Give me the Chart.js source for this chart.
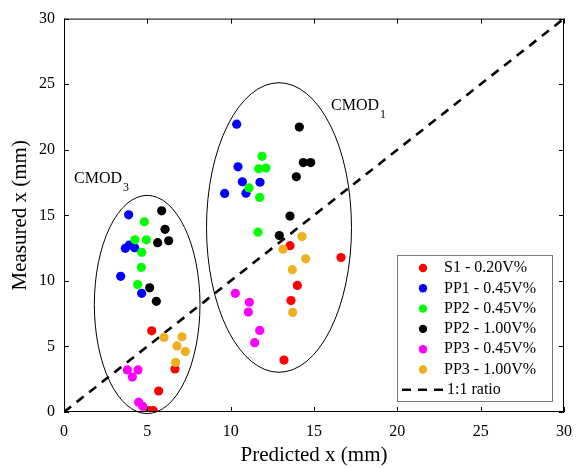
<!DOCTYPE html>
<html>
<head>
<meta charset="utf-8">
<script src="https://cdn.jsdelivr.net/npm/chart.js@4.4.1/dist/chart.umd.min.js"></script>
<style>
  html, body { margin: 0; padding: 0; background: #fff; }
  #box { width: 584px; height: 468px; }
</style>
</head>
<body>
<div id="box"><canvas id="cvs"></canvas></div>
<script>
// values (mm)
const seriesNames = ['S1 - 0.20V%', 'PP1 - 0.45V%', 'PP2 - 0.45V%', 'PP2 - 1.00V%', 'PP3 - 0.45V%', 'PP3 - 1.00V%'];
const seriesColors = ['#ff0000', '#0000ff', '#00ff00', '#000000', '#ff00ff', '#edb120'];

const s1X = [5.26, 6.66, 5.68, 5.12, 5.36, 13.56, 16.62, 14.0, 13.62, 13.2];
const s1Y = [6.19, 3.28, 1.6, 0.1, 0.1, 12.68, 11.78, 9.65, 8.5, 3.96];

const pp1aX = [3.88, 3.68, 3.92, 4.24, 3.4, 4.66, 10.36, 10.44, 10.7, 11.76, 10.92, 9.64];
const pp1aY = [15.04, 12.48, 12.73, 12.53, 10.35, 9.05, 21.95, 18.7, 17.56, 17.52, 16.69, 16.67];

const pp2aX = [4.82, 4.26, 4.94, 4.66, 4.64, 4.42, 11.88, 11.68, 12.12, 11.1, 11.74, 11.64];
const pp2aY = [14.51, 13.13, 13.13, 12.18, 11.03, 9.72, 19.5, 18.55, 18.6, 17.09, 16.36, 13.71];

const pp2bX = [5.86, 6.06, 6.28, 5.62, 5.14, 5.54, 14.12, 14.36, 14.8, 13.94, 13.56, 12.92];
const pp2bY = [15.34, 13.93, 13.06, 12.91, 9.47, 8.44, 21.73, 19.02, 19.02, 17.94, 14.94, 13.46];

const pp3aX = [3.8, 4.44, 4.1, 4.48, 4.72, 10.28, 11.12, 11.06, 11.74, 11.44];
const pp3aY = [3.21, 3.21, 2.66, 0.75, 0.43, 9.05, 8.37, 7.62, 6.22, 5.29];

const pp3bX = [6.0, 7.08, 6.78, 7.28, 6.7, 14.28, 13.14, 14.5, 13.7, 13.72];
const pp3bY = [5.69, 5.74, 5.04, 4.61, 3.78, 13.38, 12.41, 11.68, 10.85, 7.59];

const ratioX = [0, 30];
const ratioY = [0, 30];

const tickValues = [0, 5, 10, 15, 20, 25, 30];

// grouping ellipses: centre x, centre y, half width, half height (mm), label
const ellipses = [
    {cx: 4.99, cy: 8.2, rx: 3.17, ry: 8.32, name: 'CMOD', sub: '3', lx: 74, ly: 183},
    {cx: 12.9, cy: 14.07, rx: 4.35, ry: 11.04, name: 'CMOD', sub: '1', lx: 331, ly: 110}
];

const FONT = "'Liberation Serif', 'Times New Roman', serif";

function toPoints(xs, ys){
    return xs.map(function(x, i){ return {x: x, y: ys[i]}; });
}

let allX = [s1X, pp1aX, pp2aX, pp2bX, pp3aX, pp3bX];
let allY = [s1Y, pp1aY, pp2aY, pp2bY, pp3aY, pp3bY];

let datasets = [];
for (let i = 0; i < allX.length; i++){
    datasets.push({
        label: seriesNames[i],
        data: toPoints(allX[i], allY[i]),
        backgroundColor: seriesColors[i],
        borderColor: seriesColors[i],
        pointRadius: 4.6,
        pointBorderWidth: 0,
        showLine: false,
        order: 10 - i
    });
}
datasets.push({
    label: '1:1 ratio',
    data: toPoints(ratioX, ratioY),
    borderColor: '#000',
    borderWidth: 2.6,
    borderDash: [9, 7],
    pointRadius: 0,
    showLine: true,
    order: 20
});

// ellipses, frame, inward ticks and the legend box
let decor = {
    id: 'decor',
    beforeDatasetsDraw(chart){
        let ctx = chart.ctx;
        let xs = chart.scales.x, ys = chart.scales.y;
        ctx.save();
        ctx.strokeStyle = '#000';
        ctx.lineWidth = 1;
        ellipses.forEach(function(e){
            let px = xs.getPixelForValue(e.cx), py = ys.getPixelForValue(e.cy);
            let rx = xs.getPixelForValue(e.cx + e.rx) - px;
            let ry = py - ys.getPixelForValue(e.cy + e.ry);
            ctx.beginPath();
            ctx.ellipse(px, py, rx, ry, 0, 0, Math.PI * 2);
            ctx.stroke();
            ctx.fillStyle = '#000';
            ctx.textAlign = 'left';
            ctx.textBaseline = 'alphabetic';
            ctx.font = '16px ' + FONT;
            ctx.fillText(e.name, e.lx, e.ly);
            let w = ctx.measureText(e.name).width;
            ctx.font = '12px ' + FONT;
            ctx.fillText(e.sub, e.lx + w + 1, e.ly + 8);
        });
        ctx.restore();
    },
    afterDraw(chart){
        let ctx = chart.ctx;
        let a = chart.chartArea;
        let xs = chart.scales.x, ys = chart.scales.y;
        ctx.save();
        ctx.strokeStyle = '#000';
        ctx.lineWidth = 1;
        ctx.strokeRect(a.left + 0.5, a.top + 0.5, a.right - a.left - 1, a.bottom - a.top - 1);
        ctx.beginPath();
        tickValues.forEach(function(v){
            let px = Math.round(xs.getPixelForValue(v)) + 0.5;
            ctx.moveTo(px, a.bottom); ctx.lineTo(px, a.bottom - 5);
            ctx.moveTo(px, a.top); ctx.lineTo(px, a.top + 5);
            let py = Math.round(ys.getPixelForValue(v)) + 0.5;
            ctx.moveTo(a.left, py); ctx.lineTo(a.left + 5, py);
            ctx.moveTo(a.right, py); ctx.lineTo(a.right - 5, py);
        });
        ctx.stroke();

        // legend
        let bx = a.right - 167, by = a.bottom - 157, bw = 155, bh = 146;
        ctx.fillStyle = '#fff';
        ctx.fillRect(bx, by, bw, bh);
        ctx.strokeStyle = '#7a7a7a';
        ctx.strokeRect(bx + 0.5, by + 0.5, bw, bh);
        ctx.font = '16px ' + FONT;
        ctx.textBaseline = 'middle';
        ctx.textAlign = 'left';
        chart.data.datasets.forEach(function(ds, i){
            let ry = by + 13 + i * 20.3;
            if (ds.showLine){
                ctx.strokeStyle = '#000';
                ctx.lineWidth = 2.6;
                ctx.setLineDash([9, 7]);
                ctx.beginPath();
                ctx.moveTo(bx + 5, ry); ctx.lineTo(bx + 47, ry);
                ctx.stroke();
                ctx.setLineDash([]);
                ctx.fillStyle = '#000';
                ctx.fillText(ds.label, bx + 50, ry);
            } else {
                ctx.fillStyle = ds.backgroundColor;
                ctx.beginPath();
                ctx.arc(bx + 26, ry, 4.2, 0, Math.PI * 2);
                ctx.fill();
                ctx.fillStyle = '#000';
                ctx.fillText(ds.label, bx + 47, ry);
            }
        });
        ctx.restore();
    }
};

let cvs = document.getElementById('cvs').getContext('2d');
let graphe = new Chart(cvs, {
    type: 'scatter',
    data: { datasets: datasets },
    options: {
        responsive: true,
        maintainAspectRatio: false,
        animation: false,
        layout: { padding: { left: 0, right: 20, top: 13, bottom: 0 } },
        plugins: {
            legend: { display: false },
            tooltip: { enabled: false }
        },
        scales: {
            x: {
                type: 'linear', min: 0, max: 30,
                afterFit: function(s){ s.height = 56; },
                afterBuildTicks: function(s){ s.ticks = tickValues.map(function(v){ return {value: v}; }); },
                grid: { display: false, drawTicks: false },
                border: { display: false },
                ticks: { color: '#000', padding: 10, font: { family: FONT, size: 16 } },
                title: { display: true, text: 'Predicted x (mm)', color: '#000',
                         padding: { top: 0, bottom: 0 }, font: { family: FONT, size: 21 } }
            },
            y: {
                type: 'linear', min: 0, max: 30,
                afterFit: function(s){ s.width = 64; },
                afterBuildTicks: function(s){ s.ticks = tickValues.map(function(v){ return {value: v}; }); },
                grid: { display: false, drawTicks: false },
                border: { display: false },
                ticks: { color: '#000', padding: 9, font: { family: FONT, size: 16 } },
                title: { display: true, text: 'Measured x (mm)', color: '#000',
                         padding: { top: 8, bottom: 0 }, font: { family: FONT, size: 21 } }
            }
        }
    },
    plugins: [decor]
});
</script>
</body>
</html>
